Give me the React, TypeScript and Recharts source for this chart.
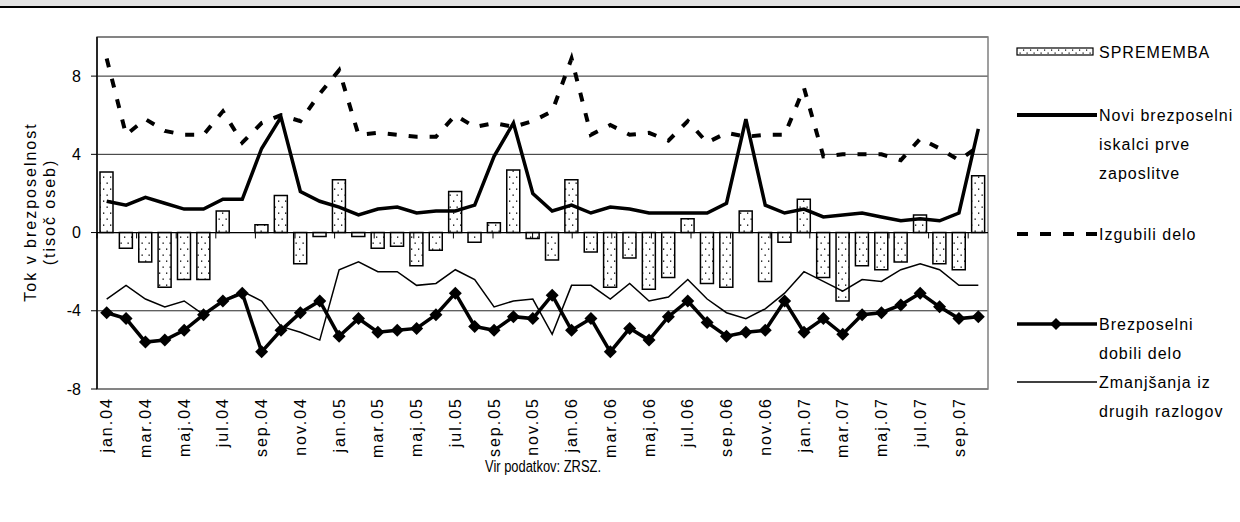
import React from "react";
import {
  ComposedChart,
  Bar,
  Line,
  XAxis,
  YAxis,
  CartesianGrid,
  ReferenceLine,
  ReferenceArea,
} from "recharts";

const months = [
  "jan.04", "feb.04", "mar.04", "apr.04", "maj.04", "jun.04", "jul.04", "avg.04", "sep.04", "okt.04", "nov.04", "dec.04",
  "jan.05", "feb.05", "mar.05", "apr.05", "maj.05", "jun.05", "jul.05", "avg.05", "sep.05", "okt.05", "nov.05", "dec.05",
  "jan.06", "feb.06", "mar.06", "apr.06", "maj.06", "jun.06", "jul.06", "avg.06", "sep.06", "okt.06", "nov.06", "dec.06",
  "jan.07", "feb.07", "mar.07", "apr.07", "maj.07", "jun.07", "jul.07", "avg.07", "sep.07", "okt.07",
];

// SPREMEMBA (bars)
const sprememba = [
  3.1, -0.8, -1.5, -2.8, -2.4, -2.4, 1.1, null, 0.4, 1.9, -1.6, -0.2,
  2.7, -0.2, -0.8, -0.7, -1.7, -0.9, 2.1, -0.5, 0.5, 3.2, -0.3, -1.4,
  2.7, -1.0, -2.8, -1.3, -2.9, -2.3, 0.7, -2.6, -2.8, 1.1, -2.5, -0.5,
  1.7, -2.3, -3.5, -1.7, -1.9, -1.5, 0.9, -1.6, -1.9, 2.9,
];

// Novi brezposelni iskalci prve zaposlitve
const novi = [
  1.6, 1.4, 1.8, 1.5, 1.2, 1.2, 1.7, 1.7, 4.3, 5.9, 2.1, 1.6,
  1.3, 0.9, 1.2, 1.3, 1.0, 1.1, 1.1, 1.4, 3.9, 5.6, 2.0, 1.1,
  1.4, 1.0, 1.3, 1.2, 1.0, 1.0, 1.0, 1.0, 1.5, 5.8, 1.4, 1.0,
  1.2, 0.8, 0.9, 1.0, 0.8, 0.6, 0.7, 0.6, 1.0, 5.3,
];

// Izgubili delo
const izgubili = [
  8.9, 5.0, 5.8, 5.2, 5.0, 5.0, 6.2, 4.6, 5.6, 6.0, 5.7, 7.1,
  8.3, 5.0, 5.1, 5.0, 4.9, 4.9, 6.0, 5.4, 5.6, 5.4, 5.7, 6.2,
  8.9, 5.0, 5.5, 5.0, 5.1, 4.7, 5.7, 4.6, 5.1, 4.9, 5.0, 5.0,
  7.4, 3.9, 4.0, 4.0, 4.0, 3.7, 4.8, 4.3, 3.7, 4.4,
];

// Brezposelni dobili delo
const dobili = [
  -4.1, -4.4, -5.6, -5.5, -5.0, -4.2, -3.5, -3.1, -6.1, -5.0, -4.1, -3.5,
  -5.3, -4.4, -5.1, -5.0, -4.9, -4.2, -3.1, -4.8, -5.0, -4.3, -4.4, -3.2,
  -5.0, -4.4, -6.1, -4.9, -5.5, -4.3, -3.5, -4.6, -5.3, -5.1, -5.0, -3.5,
  -5.1, -4.4, -5.2, -4.2, -4.1, -3.7, -3.1, -3.8, -4.4, -4.3,
];

// Zmanjšanja iz drugih razlogov
const zmanjsanja = [
  -3.4, -2.7, -3.4, -3.8, -3.5, -4.2, -3.5, -3.0, -3.5, -4.8, -5.1, -5.5,
  -1.9, -1.5, -2.0, -2.0, -2.7, -2.6, -1.9, -2.4, -3.8, -3.5, -3.4, -5.2,
  -2.7, -2.7, -3.4, -2.6, -3.5, -3.3, -2.4, -3.4, -4.1, -4.4, -3.9, -3.1,
  -2.0, -2.5, -3.0, -2.4, -2.5, -1.9, -1.6, -1.9, -2.7, -2.7,
];

const yTicks = [-8, -4, 0, 4, 8];
// category boundaries that carry a tick mark on the 0 line
const catTicks = Array.from({ length: 24 }, (_, i) => i * 2);

const data = months.map((m, i) => ({
  month: m,
  sprememba: sprememba[i],
  novi: novi[i],
  izgubili: izgubili[i],
  dobili: dobili[i],
  zmanjsanja: zmanjsanja[i],
}));

const FONT = '"Liberation Sans", Arial, sans-serif';

const MonthTick = ({ x, y, payload }: any) => (
  <text
    x={x}
    y={y}
    transform={`rotate(-90 ${x} ${y})`}
    textAnchor="end"
    dy="0.35em"
    fontSize={16}
    letterSpacing={2}
    fill="#000"
    fontFamily={FONT}
  >
    {payload.value}
  </text>
);

const Diamond = ({ cx, cy, index }: any) =>
  cx == null || cy == null ? null : (
    <path key={index} d={`M${cx},${cy - 6.5}L${cx + 6.5},${cy}L${cx},${cy + 6.5}L${cx - 6.5},${cy}Z`} fill="#000" />
  );

const legend = [
  { kind: "bar", lines: ["SPREMEMBA"] },
  { kind: "thick", lines: ["Novi brezposelni", "iskalci prve", "zaposlitve"] },
  { kind: "dash", lines: ["Izgubili delo"] },
  { kind: "diamond", lines: ["Brezposelni", "dobili delo"] },
  { kind: "thin", lines: ["Zmanjšanja iz", "drugih razlogov"] },
];
const legendY = [52, 115, 234, 324, 382];

const Legend = () => (
  <svg width={1240} height={522} style={{ position: "absolute", left: 0, top: 0, pointerEvents: "none" }}>
    <defs>
      <pattern id="dotsL" width={7} height={6} patternUnits="userSpaceOnUse">
        <rect width={7} height={6} fill="#fff" />
        <rect x={1} y={1.5} width={1.2} height={1.2} fill="#000" />
        <rect x={4.5} y={4.5} width={1.2} height={1.2} fill="#000" />
      </pattern>
    </defs>
    {legend.map((it, k) => {
      const y = legendY[k];
      return (
        <g key={k}>
          {it.kind === "bar" && <rect x={1017} y={y - 4} width={76} height={7} fill="url(#dotsL)" stroke="#000" strokeWidth={1.2} />}
          {it.kind === "thick" && <line x1={1017} x2={1097} y1={y} y2={y} stroke="#000" strokeWidth={4} />}
          {it.kind === "dash" && <line x1={1017} x2={1097} y1={y} y2={y} stroke="#000" strokeWidth={4} strokeDasharray="11 12" />}
          {it.kind === "diamond" && (
            <>
              <line x1={1017} x2={1097} y1={y} y2={y} stroke="#000" strokeWidth={3.5} />
              <path d={`M1056,${y - 6}L1062,${y}L1056,${y + 6}L1050,${y}Z`} fill="#000" />
            </>
          )}
          {it.kind === "thin" && <line x1={1017} x2={1097} y1={y} y2={y} stroke="#000" strokeWidth={1.5} />}
          {it.lines.map((t, j) => (
            <text key={j} x={1099} y={y + j * 29} dy="0.35em" fontSize={16} letterSpacing={1} fill="#000" fontFamily={FONT}>
              {t}
            </text>
          ))}
        </g>
      );
    })}
    <text x={30} y={212} transform="rotate(-90 30 212)" textAnchor="middle" dy="0.35em" fontSize={16} letterSpacing={2} fontFamily={FONT}>
      Tok v brezposelnost
    </text>
    <text x={49} y={212} transform="rotate(-90 49 212)" textAnchor="middle" dy="0.35em" fontSize={16} letterSpacing={2} fontFamily={FONT}>
      (tisoč oseb)
    </text>
    <g transform="translate(543 466) scale(0.76 1)">
      <text x={0} y={0} textAnchor="middle" dy="0.35em" fontSize={17} fontFamily={FONT}>
        Vir podatkov: ZRSZ.
      </text>
    </g>
  </svg>
);

export default function App() {
  return (
    <div style={{ position: "absolute", left: 0, top: 0, width: 1240, height: 522, background: "#fff", overflow: "hidden", fontFamily: FONT }}>
      <div style={{ position: "absolute", left: 0, top: 0, width: 1240, height: 6, background: "#e3e3e3", borderBottom: "2px solid #000" }} />
      <div style={{ position: "absolute", left: 0, top: 0 }}>
        <ComposedChart width={1000} height={522} data={data} margin={{ top: 37, right: 12, left: 37, bottom: 58 }}>
          <defs>
            <pattern id="dots" width={7} height={12} patternUnits="userSpaceOnUse">
              <rect width={7} height={12} fill="#fff" />
              <rect x={1.5} y={2.5} width={1.3} height={1.3} fill="#000" />
              <rect x={5} y={8.5} width={1.3} height={1.3} fill="#000" />
            </pattern>
          </defs>
          <ReferenceArea y1={-8} y2={10} fill="none" stroke="#808080" strokeWidth={1.5} ifOverflow="visible" />
          <CartesianGrid vertical={false} stroke="#000" strokeOpacity={0.85} />
          <XAxis
            dataKey="month"
            interval={1}
            tickLine={false}
            axisLine={false}
            tickSize={0}
            tickMargin={8}
            height={75}
            tick={<MonthTick />}
          />
          <XAxis xAxisId="grid" type="number" domain={[0, 46]} hide allowDataOverflow />
          <YAxis
            domain={[-8, 10]}
            ticks={yTicks}
            width={60}
            tickSize={6}
            tickMargin={10}
            axisLine={{ stroke: "#000", strokeWidth: 1.5 }}
            tickLine={{ stroke: "#000" }}
            tick={{ fill: "#000", fontSize: 16, fontFamily: FONT }}
            allowDataOverflow
          />
          <Bar dataKey="sprememba" fill="url(#dots)" stroke="#000" strokeWidth={1.5} barSize={13} isAnimationActive={false} />
          <ReferenceLine y={0} stroke="#000" strokeWidth={1.2} />
          {catTicks.map((b) => (
            <ReferenceLine
              key={b}
              xAxisId="grid"
              segment={[{ x: b, y: 0 }, { x: b, y: -0.3 }]}
              stroke="#000"
              strokeWidth={1}
            />
          ))}
          <Line dataKey="zmanjsanja" type="linear" stroke="#000" strokeWidth={1.5} dot={false} activeDot={false} isAnimationActive={false} />
          <Line dataKey="novi" type="linear" stroke="#000" strokeWidth={3.5} dot={false} activeDot={false} isAnimationActive={false} />
          <Line dataKey="izgubili" type="linear" stroke="#000" strokeWidth={4} strokeDasharray="9 12" dot={false} activeDot={false} isAnimationActive={false} />
          <Line dataKey="dobili" type="linear" stroke="#000" strokeWidth={3.5} dot={<Diamond />} activeDot={false} isAnimationActive={false} />
        </ComposedChart>
      </div>
      <Legend />
    </div>
  );
}
